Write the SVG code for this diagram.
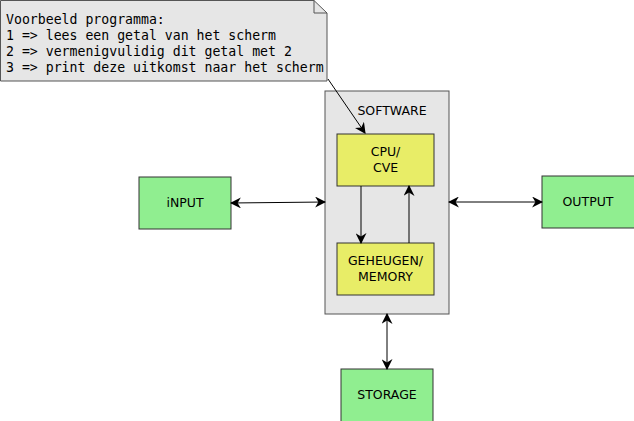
<svg xmlns="http://www.w3.org/2000/svg" width="634" height="421" viewBox="0 0 634 421">
<style>
.green{fill:#90ee90;stroke:#333;stroke-width:1}
.yellow{fill:#e8ed67;stroke:#333;stroke-width:1}
.lbl{font-family:"DejaVu Sans",sans-serif;font-size:12.5px;fill:#000;text-anchor:middle}
.mono{font-family:"DejaVu Sans Mono",monospace;font-size:13.2px;fill:#000}
.edge{stroke:#000;stroke-width:1;fill:none}
</style>
<defs>
<marker id="ah" viewBox="0 0 10 10" refX="9" refY="5" markerWidth="11" markerHeight="11" markerUnits="userSpaceOnUse" orient="auto-start-reverse">
<path d="M0,0 L10,5 L0,10 L3,5 Z" fill="#000"/>
</marker>
</defs>
<rect width="634" height="421" fill="#fff"/>
<g id="note">
<path d="M0.5,0.5 H314 L327,13 V81 H0.5 Z" fill="#e6e6e6" stroke="#555"/>
<path d="M314,0.5 V13 H327" fill="none" stroke="#555"/>
<text class="mono" x="6" y="24">Voorbeeld programma:</text>
<text class="mono" x="6" y="40">1 =&gt; lees een getal van het scherm</text>
<text class="mono" x="6" y="56">2 =&gt; vermenigvulidig dit getal met 2</text>
<text class="mono" x="6" y="72">3 =&gt; print deze uitkomst naar het scherm</text>
</g>
<g id="software">
<rect x="325" y="91" width="124" height="223" fill="#e6e6e6" stroke="#555"/>
<text class="lbl" x="392" y="115">SOFTWARE</text>
</g>
<g id="cpu">
<rect class="yellow" x="337" y="134" width="97" height="52"/>
<text class="lbl" x="385.5" y="156">CPU/</text>
<text class="lbl" x="385.5" y="172">CVE</text>
</g>
<g id="memory">
<rect class="yellow" x="337" y="243" width="97" height="52"/>
<text class="lbl" x="385.5" y="265">GEHEUGEN/</text>
<text class="lbl" x="385.5" y="281">MEMORY</text>
</g>
<g id="input">
<rect class="green" x="139" y="177" width="92" height="52"/>
<text class="lbl" x="185" y="207">iNPUT</text>
</g>
<g id="output">
<rect class="green" x="542" y="176" width="93" height="52"/>
<text class="lbl" x="588" y="206">OUTPUT</text>
</g>
<g id="storage">
<rect class="green" x="341" y="369" width="92" height="53"/>
<text class="lbl" x="387" y="399">STORAGE</text>
</g>
<g id="connectors">
<line class="edge" x1="328" y1="79" x2="365" y2="133" marker-end="url(#ah)"/>
<line class="edge" x1="361" y1="186" x2="361" y2="243" marker-end="url(#ah)"/>
<line class="edge" x1="409" y1="243" x2="409" y2="186" marker-end="url(#ah)"/>
<line class="edge" x1="231" y1="203" x2="325" y2="202" marker-start="url(#ah)" marker-end="url(#ah)"/>
<line class="edge" x1="449" y1="202" x2="542" y2="202" marker-start="url(#ah)" marker-end="url(#ah)"/>
<line class="edge" x1="387" y1="314" x2="387" y2="369" marker-start="url(#ah)" marker-end="url(#ah)"/>
</g>
</svg>
